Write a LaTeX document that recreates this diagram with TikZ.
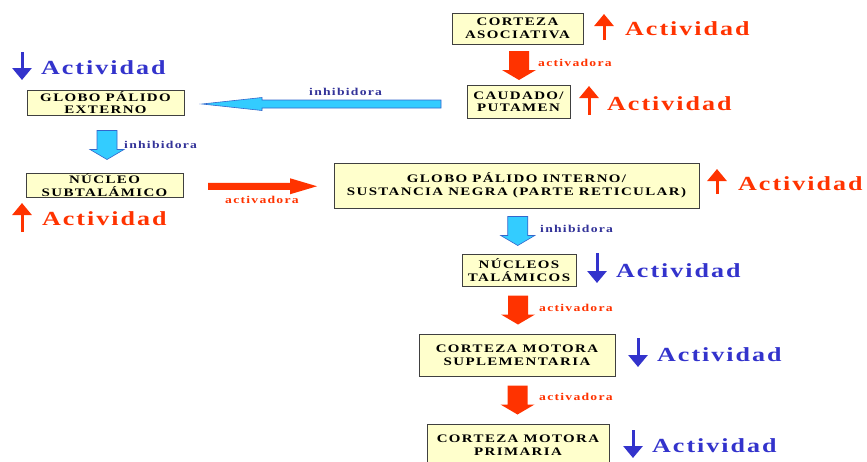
\documentclass[tikz,border=0pt]{standalone}
\usepackage{fontspec}
\setmainfont{Liberation Serif}
\newfontfamily\boxfont[FakeStretch=1.3,LetterSpace=12]{Liberation Serif}
\newfontfamily\actfont[FakeStretch=1.3,LetterSpace=10]{Liberation Serif}
\newfontfamily\lblfont[FakeStretch=1.3,LetterSpace=12]{Liberation Serif}
\usetikzlibrary{arrows.meta,calc}
\definecolor{boxfill}{HTML}{FFFFCC}
\definecolor{boxline}{HTML}{404040}
\definecolor{redc}{HTML}{FF3300}
\definecolor{bluec}{HTML}{3333CC}
\definecolor{navyc}{HTML}{333399}
\definecolor{cyanc}{HTML}{33CCFF}
\definecolor{cyanline}{HTML}{3366CC}
\tikzset{
 box/.style={draw=boxline, fill=boxfill, line width=0.9pt, inner sep=0pt, align=center,
   font=\boxfont\bfseries\fontsize{11.5}{12.5}\selectfont},
 act/.style={anchor=base west, inner sep=0pt, font=\actfont\bfseries\fontsize{20}{24}\selectfont},
 lbl/.style={anchor=base west, inner sep=0pt, font=\lblfont\bfseries\fontsize{10.5}{12}\selectfont},
 redblk/.style={fill=redc},
 cyanblk/.style={fill=cyanc, draw=cyanline, line width=0.6pt},
 uparr/.style={draw=redc, line width=3pt, -{Triangle[width=19pt,length=12pt]}},
 dnarr/.style={draw=bluec, line width=3pt, -{Triangle[width=19pt,length=12pt]}},
 downblk/.pic={\path[#1] (-10,-14.5) -- (10,-14.5) -- (10,4.5) -- (17,4.5) -- (0,14.5)
   -- (-17,4.5) -- (-10,4.5) -- cycle;},
 leftblk/.pic={\path[#1] (119.5,-4) -- (119.5,4) -- (-59.5,4) -- (-59.5,6.5) -- (-119.5,0)
   -- (-59.5,-6.5) -- (-59.5,-4) -- cycle;},
 rightblk/.pic={\path[#1] (-54.5,-3.5) -- (27.5,-3.5) -- (27.5,-8) -- (54.5,0) -- (27.5,8)
   -- (27.5,3.5) -- (-54.5,3.5) -- cycle;}
}
\begin{document}
\begin{tikzpicture}[x=1pt,y=-1pt]
\path[use as bounding box] (0,0) rectangle (867,461);
\clip (0,0) rectangle (867,461);
\fill[white] (0,0) rectangle (867,461);

% boxes
\node[box, minimum width=131, minimum height=31] (ca) at (517.5,28.5) {CORTEZA\\ASOCIATIVA};
\node[box, minimum width=103, minimum height=33] (cp) at (518.5,101.5) {CAUDADO/\\PUTAMEN};
\node[box, minimum width=157, minimum height=25] (gpe) at (105.5,102.5) {GLOBO PÁLIDO\\EXTERNO};
\node[box, minimum width=157, minimum height=24] (nst) at (104.5,185) {NÚCLEO\\SUBTALÁMICO};
\node[box, minimum width=365, minimum height=45] (gpi) at (516.5,185.5) {GLOBO PÁLIDO INTERNO/\\SUSTANCIA NEGRA (PARTE RETICULAR)};
\node[box, minimum width=114, minimum height=32] (nt) at (519,270) {NÚCLEOS\\TALÁMICOS};
\node[box, minimum width=196, minimum height=42] (cms) at (517,355) {CORTEZA MOTORA\\SUPLEMENTARIA};
\node[box, minimum width=182, minimum height=42] (cmp) at (518,445) {CORTEZA MOTORA\\PRIMARIA};

% block arrows
\pic at ($(ca.south)!0.5!(cp.north)+(1,1)$) {downblk=redblk};
\pic at ($(gpe.south)!0.5!(nst.north)+(2,1)$) {downblk=cyanblk};
\pic at ($(gpi.south)!0.5!(nt.north)$) {downblk=cyanblk};
\pic at ($(nt.south)!0.5!(cms.north)$) {downblk=redblk};
\pic at ($(cms.south)!0.5!(cmp.north)$) {downblk=redblk};
\pic at ($(cp.west)!0.5!(gpe.east)+(-4,2)$) {leftblk=cyanblk};
\pic at ($(nst.east)!0.5!(gpi.west)+(4,1)$) {rightblk=redblk};

% connector labels
\node[lbl, text=redc] (l1) at (538,66) {activadora};
\node[lbl, text=navyc] (l2) at (309,95) {inhibidora};
\node[lbl, text=navyc] (l3) at (124,148) {inhibidora};
\node[lbl, text=redc] (l4) at (225,203) {activadora};
\node[lbl, text=navyc] (l5) at (540,232) {inhibidora};
\node[lbl, text=redc] (l6) at (539,311) {activadora};
\node[lbl, text=redc] (l7) at (539,400) {activadora};

% activity indicators
\node[act, text=redc] (t1) at (625,35) {Actividad};
\node[act, text=redc] (t2) at (607,110) {Actividad};
\node[act, text=bluec] (t3) at (41,74) {Actividad};
\node[act, text=redc] (t4) at (42,225) {Actividad};
\node[act, text=redc] (t5) at (738,190) {Actividad};
\node[act, text=bluec] (t6) at (616,277) {Actividad};
\node[act, text=bluec] (t7) at (657,361) {Actividad};
\node[act, text=bluec] (t8) at (652,452) {Actividad};

\coordinate (a1s) at (604,40);  \coordinate (a1e) at (604,14);
\coordinate (a2s) at (589,115); \coordinate (a2e) at (589,86);
\coordinate (a3s) at (22,52);   \coordinate (a3e) at (22,80);
\coordinate (a4s) at (22,232);  \coordinate (a4e) at (22,203);
\coordinate (a5s) at (717,194); \coordinate (a5e) at (717,169);
\coordinate (a6s) at (597,253); \coordinate (a6e) at (597,283);
\coordinate (a7s) at (638,338); \coordinate (a7e) at (638,367);
\coordinate (a8s) at (633,430); \coordinate (a8e) at (633,458);
\draw[uparr] (a1s) -- (a1e);
\draw[uparr] (a2s) -- (a2e);
\draw[dnarr] (a3s) -- (a3e);
\draw[uparr] (a4s) -- (a4e);
\draw[uparr] (a5s) -- (a5e);
\draw[dnarr] (a6s) -- (a6e);
\draw[dnarr] (a7s) -- (a7e);
\draw[dnarr] (a8s) -- (a8e);
\end{tikzpicture}
\end{document}
